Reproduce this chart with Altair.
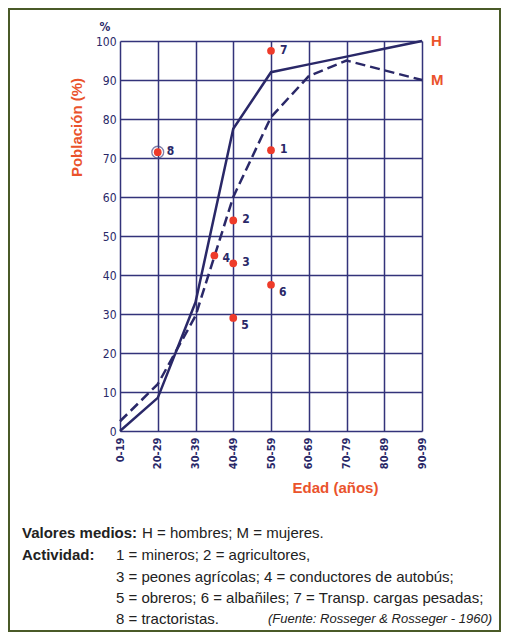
import altair as alt
import pandas as pd

# ---------------- data ----------------
edades = ["0-19", "20-29", "30-39", "40-49", "50-59", "60-69", "70-79", "80-89", "90-99"]
hombres = [0, 8.5, 33, 77.5, 92, 94, 96, 98, 100]
mujeres = [2.5, 12, 29.5, 60, 80.5, 91, 95, 92.5, 90]

act_id = [1, 2, 3, 4, 5, 6, 7, 8]
act_x = [4, 3, 3, 2.5, 3, 4, 4, 1]          # position on age axis (index of age group)
act_y = [72, 54, 43, 45, 29, 37.5, 97.5, 71.5]

serie_lbl = ["H", "M"]
serie_y = [100, 90]

nota_1 = ["Valores medios:", "H = hombres; M = mujeres."]
nota_act = "Actividad:"
nota_lines = [
    "1 = mineros; 2 = agricultores,",
    "3 = peones agrícolas; 4 = conductores de autobús;",
    "5 = obreros; 6 = albañiles; 7 = Transp. cargas pesadas;",
    "8 = tractoristas.",
]
fuente = "(Fuente: Rosseger & Rosseger - 1960)"

# ---------------- styles ----------------
NAVY = "#2a2868"
GRID = "#33337a"
RED = "#ee3b2a"
ORANGE = "#ea532c"
GREEN = "#4a5a28"
FONT = "Liberation Sans"
COND = "DejaVu Sans Condensed"

df_line = pd.DataFrame({"x": list(range(len(edades))), "H": hombres, "M": mujeres})
df_act = pd.DataFrame({"x": act_x, "y": act_y, "id": act_id})
df_ser = pd.DataFrame({"x": [len(edades) - 1] * 2, "y": serie_y, "lbl": serie_lbl})
one = pd.DataFrame({"a": [0]})

label_expr = "[" + ",".join("'%s'" % e for e in edades) + "][datum.value]"

xscale = alt.Scale(domain=[0, len(edades) - 1], nice=False, zero=False)
yscale = alt.Scale(domain=[0, 100], nice=False)

xaxis = alt.Axis(
    values=list(range(len(edades))), labelExpr=label_expr, labelAngle=270,
    labelOverlap=False, grid=True, gridColor=GRID, gridWidth=1.5, gridOpacity=1,
    ticks=False, domain=False,
    labelColor=NAVY, labelFont=COND, labelFontSize=11, labelFontWeight="bold",
    labelPadding=6, title="Edad (años)", titleColor=ORANGE, titleFont=FONT,
    titleFontSize=15, titleFontWeight="bold", titleX=215, titleY=56,
    titleAlign="center", titleBaseline="middle",
)
yaxis = alt.Axis(
    values=list(range(0, 101, 10)), labelOverlap=False, grid=True, gridColor=GRID,
    gridWidth=1.5, gridOpacity=1, ticks=False, domain=False, labelColor=NAVY,
    labelFont=COND, labelFontSize=12, labelPadding=4, title="Población (%)",
    titleColor=ORANGE, titleFont=FONT, titleFontSize=15, titleFontWeight="bold",
    titleAngle=270, titleX=-44, titleY=86, titleAlign="center", titleBaseline="middle",
)

def X(f):
    return alt.X(f, type="quantitative", scale=xscale, axis=xaxis)

def Y(f):
    return alt.Y(f, type="quantitative", scale=yscale, axis=yaxis)

base = alt.Chart(df_line)
h_line = base.mark_line(color=NAVY, strokeWidth=2.5).encode(x=X("x"), y=Y("H"))
m_line = base.mark_line(color=NAVY, strokeWidth=2.5, strokeDash=[10, 5]).encode(x=X("x"), y=Y("M"))

act_base = alt.Chart(df_act).encode(x=X("x"), y=Y("y"))
ring = act_base.transform_filter("datum.id == 8").mark_point(
    shape="circle", size=140, color="#4a4a88", strokeWidth=1.3, filled=False
)
pts = act_base.mark_circle(color=RED, size=60, opacity=1)

lab_kw = dict(color=NAVY, font=COND, fontSize=12, fontWeight="bold", align="left", baseline="middle")
lab_a = act_base.transform_filter("indexof([1,2,3,7,8], datum.id) >= 0").mark_text(dx=9, dy=-1, **lab_kw).encode(text="id:N")
lab_b = act_base.transform_filter("datum.id == 4").mark_text(dx=8, dy=2, **lab_kw).encode(text="id:N")
lab_c = act_base.transform_filter("datum.id == 5 || datum.id == 6").mark_text(dx=8, dy=7, **lab_kw).encode(text="id:N")

ser = alt.Chart(df_ser).mark_text(
    color=ORANGE, font=FONT, fontSize=15, fontWeight="bold", align="left", baseline="middle", dx=9
).encode(x=X("x"), y=Y("y"), text="lbl:N")

pct = alt.Chart(one).mark_text(
    text="%", color=NAVY, font=COND, fontSize=12, fontWeight="bold", align="center", baseline="middle"
).encode(x=alt.value(-15), y=alt.value(-14))

frame = alt.Chart(one).mark_rect(fill=None, stroke=GREEN, strokeWidth=2).encode(
    x=alt.value(-111), x2=alt.value(380), y=alt.value(-32), y2=alt.value(590)
)

def txt(s, x, y, weight="normal", size=15, align="left", style="normal", font=FONT, color="#222222"):
    return alt.Chart(one).mark_text(
        text=s, font=font, fontSize=size, fontWeight=weight, fontStyle=style,
        align=align, baseline="middle", color=color
    ).encode(x=alt.value(x), y=alt.value(y))

rows = [492, 514, 536, 557, 578]
notes = [
    txt(nota_1[0], -98, rows[0], weight="bold"),
    txt(nota_1[1], 22, rows[0]),
    txt(nota_act, -98, rows[1], weight="bold"),
]
for i, line in enumerate(nota_lines):
    notes.append(txt(line, -4, rows[i + 1]))
notes.append(txt(fuente, 372, rows[4], size=13, align="right", style="italic"))

chart = alt.layer(
    frame, h_line, m_line, ring, pts, lab_a, lab_b, lab_c, ser, pct, *notes
).properties(width=302, height=390, padding=0).configure_view(strokeWidth=0)

chart.save("out.html", embed_options={"renderer": "svg", "actions": False})
